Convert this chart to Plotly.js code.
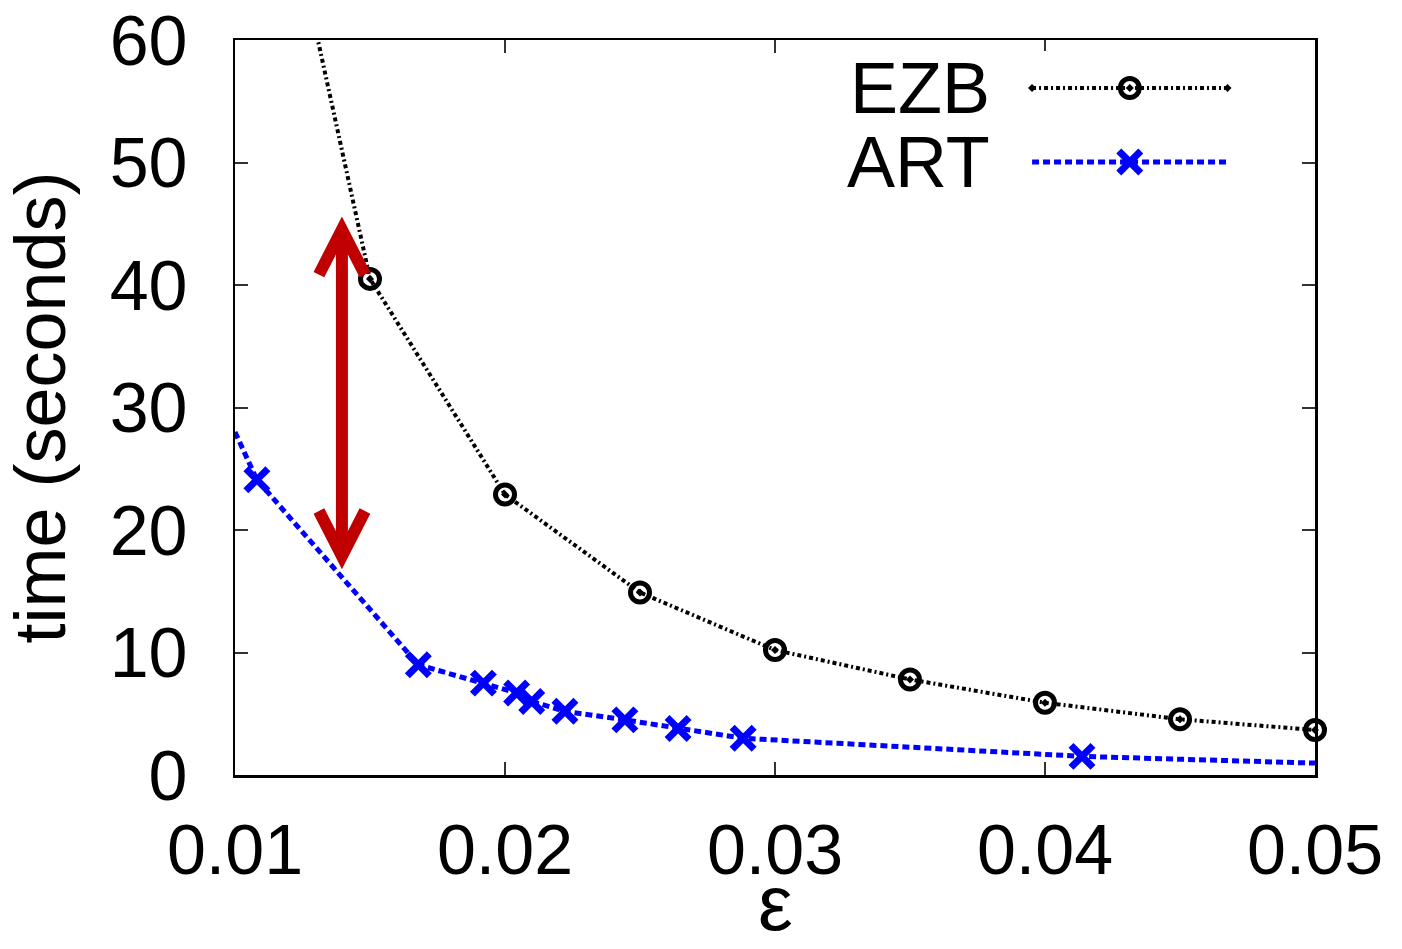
<!DOCTYPE html>
<html>
<head>
<meta charset="utf-8">
<script src="https://cdn.plot.ly/plotly-3.0.1.min.js"></script>
<style>
  html, body { margin: 0; padding: 0; background: #fff; }
  #chart { width: 1402px; height: 949px; }
</style>
</head>
<body>
<div id="chart"></div>
<script>
// ---- data ----
const ezbEps   = [0.010, 0.015, 0.020, 0.025, 0.030, 0.035, 0.040, 0.045, 0.050];
const ezbTime  = [91.0, 40.5, 22.9, 14.9, 10.2, 7.8, 5.9, 4.55, 3.67];
const ezbMark  = [0, 1, 1, 1, 1, 1, 1, 1, 1];

const artEps   = [0.0100, 0.01081, 0.01679, 0.01920, 0.02043, 0.02099, 0.02222, 0.02444, 0.02641, 0.02882, 0.04137, 0.0500];
const artTime  = [28.0, 24.1, 9.0, 7.5, 6.7, 6.0, 5.2, 4.5, 3.8, 3.0, 1.52, 0.97];
const artMark  = [0, 1, 1, 1, 1, 1, 1, 1, 1, 1, 1, 0];

const xTicks = [0.01, 0.02, 0.03, 0.04, 0.05];
const xTickLabels = ['0.01', '0.02', '0.03', '0.04', '0.05'];
const yTicks = [0, 10, 20, 30, 40, 50, 60];
const yTickLabels = ['0', '10', '20', '30', '40', '50', '60'];

const seriesNames = ['EZB', 'ART'];
const xTitle = 'ε';
const yTitle = 'time (seconds)';

// red double arrow (annotation)
const arrowEps = 0.01396;
const arrowLow = 16.9;
const arrowHigh = 45.5;

// legend sample positions (in the legend's own small axis)
const legendSampleX = [0, 0.5, 1];
const legendMarkOn  = [0, 1, 0];

// ---- styles ----
const FONT = 'Liberation Sans, Arial, Helvetica, sans-serif';
const EZB_SIZE = 19, ART_SIZE = 22;
const ezbLine = {color: '#000000', width: 4, dash: '4px,3px,2px,3px'};
const artLine = {color: '#0000ff', width: 5, dash: '7px,4px'};
const ezbMarker = (m) => ({symbol: 'circle-open-dot', opacity: 1, size: m.map(v => v ? EZB_SIZE : 0), color: '#000', line: {color: '#000', width: 5}});
const artMarker = (m) => ({symbol: 'x-thin-open', opacity: 1, size: m.map(v => v ? ART_SIZE : 0), color: '#0000ff', line: {color: '#0000ff', width: 7}});

const traces = [
  {x: ezbEps, y: ezbTime, name: seriesNames[0], mode: 'lines+markers', line: ezbLine, marker: ezbMarker(ezbMark), showlegend: false, xaxis: 'x', yaxis: 'y', cliponaxis: false},
  {x: artEps, y: artTime, name: seriesNames[1], mode: 'lines+markers', line: artLine, marker: artMarker(artMark), showlegend: false, xaxis: 'x', yaxis: 'y', cliponaxis: false},
  // legend samples
  {x: legendSampleX, y: [1, 1, 1], mode: 'lines+markers', line: ezbLine, marker: ezbMarker(legendMarkOn), showlegend: false, xaxis: 'x2', yaxis: 'y2', cliponaxis: false, hoverinfo: 'skip'},
  {x: legendSampleX, y: [0, 0, 0], mode: 'lines+markers', line: artLine, marker: artMarker(legendMarkOn), showlegend: false, xaxis: 'x2', yaxis: 'y2', cliponaxis: false, hoverinfo: 'skip'}
];

const axisCommon = {
  showgrid: false, zeroline: false,
  showline: true, linecolor: '#000', linewidth: 2.5, mirror: 'ticks',
  ticks: 'inside', ticklen: 13, tickwidth: 2, tickcolor: '#333',
  tickfont: {family: FONT, size: 70, color: '#000'}
};

const layout = {
  width: 1402, height: 949,
  margin: {l: 235, r: 87, t: 40, b: 174, pad: 0},
  paper_bgcolor: '#fff', plot_bgcolor: '#fff',
  showlegend: false,
  xaxis: Object.assign({}, axisCommon, {
    range: [0.01, 0.05], tickvals: xTicks, ticktext: xTickLabels,
    ticklabelstandoff: 12
  }),
  yaxis: Object.assign({}, axisCommon, {
    range: [0, 60], tickvals: yTicks, ticktext: yTickLabels,
    ticklabelstandoff: 31,
    title: {text: yTitle, font: {family: FONT, size: 72, color: '#000'}, standoff: 22}
  }),
  xaxis2: {domain: [0.738, 0.919], range: [0, 1], visible: false, anchor: 'y2', fixedrange: true},
  yaxis2: {domain: [0.7837, 0.985], range: [-0.5, 1.5], visible: false, anchor: 'x2', fixedrange: true},
  annotations: [
    {xref: 'paper', yref: 'paper', x: 0.701, y: 0.9347, xanchor: 'right', yanchor: 'middle', showarrow: false,
     text: seriesNames[0], font: {family: FONT, size: 72, color: '#000'}},
    {xref: 'paper', yref: 'paper', x: 0.701, y: 0.834, xanchor: 'right', yanchor: 'middle', showarrow: false,
     text: seriesNames[1], font: {family: FONT, size: 72, color: '#000'}},
    // x-axis title
    {xref: 'paper', yref: 'paper', x: 0.5, y: -0.2367, xanchor: 'center', yanchor: 'bottom', showarrow: false,
     text: xTitle, font: {family: FONT, size: 78, color: '#000'}}
  ],
  shapes: [
    {type: 'line', xref: 'x', yref: 'y', x0: arrowEps, x1: arrowEps, y0: arrowLow + 1.2, y1: arrowHigh - 1.2,
     line: {color: '#c00000', width: 12}},
    {type: 'path', xref: 'x', yref: 'y', xsizemode: 'pixel', ysizemode: 'pixel', xanchor: arrowEps, yanchor: arrowHigh,
     path: 'M-23,-57 L0,-12 L23,-57', line: {color: '#c00000', width: 12}},
    {type: 'path', xref: 'x', yref: 'y', xsizemode: 'pixel', ysizemode: 'pixel', xanchor: arrowEps, yanchor: arrowLow,
     path: 'M-23,57 L0,12 L23,57', line: {color: '#c00000', width: 12}}
  ]
};

Plotly.newPlot('chart', traces, layout, {staticPlot: true, displayModeBar: false});
</script>
</body>
</html>
